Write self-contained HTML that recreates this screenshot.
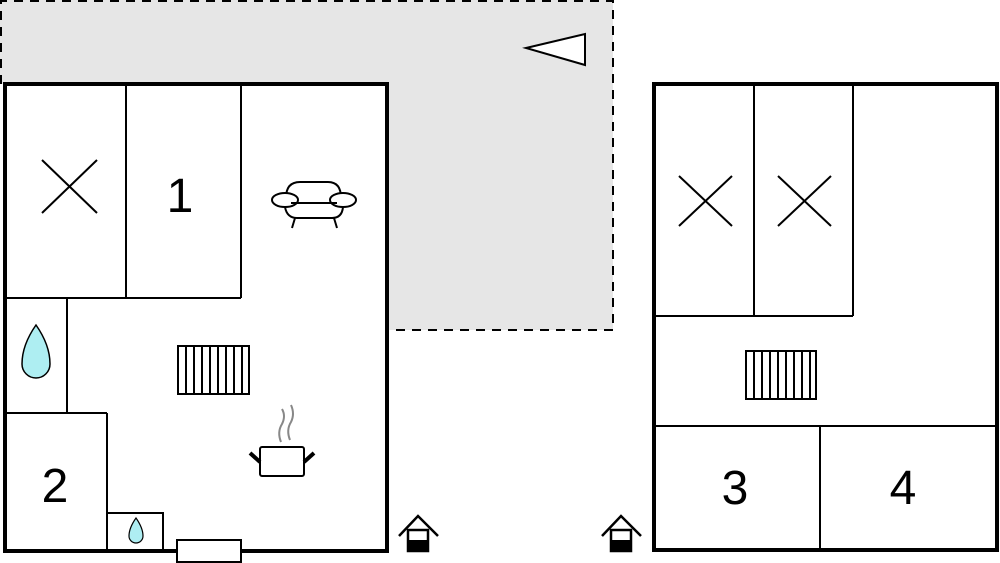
<!DOCTYPE html>
<html><head><style>body{margin:0;background:#fff}svg{display:block}</style></head><body>
<svg width="1000" height="563" viewBox="0 0 1000 563" xmlns="http://www.w3.org/2000/svg" font-family="Liberation Sans, sans-serif">
<polygon points="0,0 613,0 613,330 387,330 387,84 0,84" fill="#e6e6e6"/>
<polyline points="1,84 1,1 613,1 613,330 387,330" fill="none" stroke="#000" stroke-width="2" stroke-dasharray="9,7"/>
<polygon points="526,48 585,34 585,65" fill="#fff" stroke="#000" stroke-width="2"/>
<rect x="5" y="84" width="382" height="467" fill="#fff" stroke="#000" stroke-width="4"/>
<g stroke="#000" stroke-width="2" fill="none">
<line x1="126" y1="84" x2="126" y2="298"/><line x1="241" y1="84" x2="241" y2="298"/>
<line x1="5" y1="298" x2="241" y2="298"/>
<line x1="67" y1="298" x2="67" y2="413"/><line x1="5" y1="413" x2="107" y2="413"/>
<line x1="107" y1="413" x2="107" y2="551"/>
<rect x="107" y="513" width="56" height="38"/>
<line x1="42" y1="160" x2="97" y2="213"/><line x1="97" y1="160" x2="42" y2="213"/>
<rect x="178" y="346" width="71" height="48"/>
<line x1="186" y1="346" x2="186" y2="394"/><line x1="194" y1="346" x2="194" y2="394"/><line x1="202" y1="346" x2="202" y2="394"/><line x1="210" y1="346" x2="210" y2="394"/><line x1="218" y1="346" x2="218" y2="394"/><line x1="226" y1="346" x2="226" y2="394"/><line x1="234" y1="346" x2="234" y2="394"/><line x1="242" y1="346" x2="242" y2="394"/>
<!-- sofa -->
<path d="M286,198 Q286,182 300,182 L328,182 Q341,182 341,198" />
<ellipse cx="285" cy="200" rx="13" ry="7" fill="#fff"/><ellipse cx="343" cy="200" rx="13" ry="7" fill="#fff"/>
<line x1="291" y1="203" x2="337" y2="203"/>
<path d="M285,207 Q287,218 297,218 L332,218 Q342,218 343,207"/>
<line x1="295" y1="218" x2="292" y2="228"/><line x1="334" y1="218" x2="337" y2="228"/>
<!-- pot -->
<rect x="260" y="447" width="44" height="29" rx="2"/>
<line x1="250" y1="453" x2="260" y2="462" stroke-width="4"/><line x1="314" y1="453" x2="304" y2="462" stroke-width="4"/>
<path d="M281,442 Q277,432 282,424 Q286,416 282,409" stroke="#888"/>
<path d="M290,440 Q286,430 291,422 Q295,414 291,405" stroke="#888"/>
</g>
<rect x="177" y="540" width="64" height="22" fill="#fff" stroke="#000" stroke-width="2"/>
<path d="M36,325 Q22,345 22,364 A14,14 0 0 0 50,364 Q50,345 36,325Z" fill="#aeeef2" stroke="#000" stroke-width="1.5"/>
<path d="M136,518 Q129,528 129,536 A7,7 0 0 0 143,536 Q143,528 136,518Z" fill="#aeeef2" stroke="#000" stroke-width="1.2"/>
<text x="180" y="212" font-size="48" text-anchor="middle">1</text>
<text x="55" y="502" font-size="48" text-anchor="middle">2</text>
<!-- house icons -->
<g id="h" stroke="#000" stroke-width="2.5" fill="none">
<polyline points="399,536 418,516 438,536"/>
<rect x="408" y="530" width="20" height="21"/>
</g>
<rect x="408" y="540" width="20" height="11" fill="#000"/>
<g stroke="#000" stroke-width="2.5" fill="none">
<polyline points="602,536 621,516 641,536"/>
<rect x="611" y="530" width="20" height="21"/>
</g>
<rect x="611" y="540" width="20" height="11" fill="#000"/>
<!-- right building -->
<rect x="654" y="84" width="343" height="466" fill="#fff" stroke="#000" stroke-width="4"/>
<g stroke="#000" stroke-width="2" fill="none">
<line x1="754" y1="84" x2="754" y2="316"/><line x1="853" y1="84" x2="853" y2="316"/>
<line x1="654" y1="316" x2="853" y2="316"/>
<line x1="654" y1="426" x2="997" y2="426"/><line x1="820" y1="426" x2="820" y2="550"/>
<line x1="679" y1="176" x2="732" y2="226"/><line x1="732" y1="176" x2="679" y2="226"/>
<line x1="778" y1="176" x2="831" y2="226"/><line x1="831" y1="176" x2="778" y2="226"/>
<rect x="746" y="351" width="70" height="48"/>
<line x1="754" y1="351" x2="754" y2="399"/><line x1="762" y1="351" x2="762" y2="399"/><line x1="770" y1="351" x2="770" y2="399"/><line x1="778" y1="351" x2="778" y2="399"/><line x1="786" y1="351" x2="786" y2="399"/><line x1="794" y1="351" x2="794" y2="399"/><line x1="802" y1="351" x2="802" y2="399"/><line x1="810" y1="351" x2="810" y2="399"/>
</g>
<text x="735" y="504" font-size="48" text-anchor="middle">3</text>
<text x="903" y="504" font-size="48" text-anchor="middle">4</text>
</svg>
</body></html>
